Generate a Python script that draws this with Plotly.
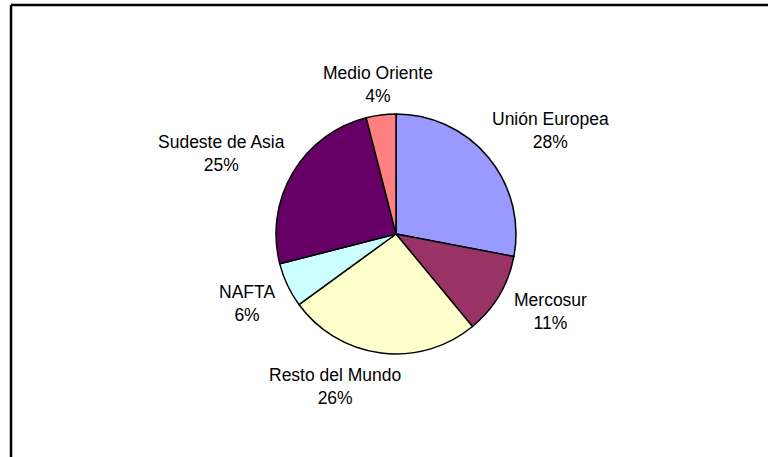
import math
import plotly.graph_objects as go

# Regional share of trade (percent)
regions = ["Unión Europea", "Mercosur", "Resto del Mundo", "NAFTA",
           "Sudeste de Asia", "Medio Oriente"]
shares = [28, 11, 26, 6, 25, 4]
colors = ["#9999FF", "#993366", "#FFFFCC", "#CCFFFF", "#660066", "#FF8080"]

W, H = 768, 457
CX, CY, R = 396, 234, 120          # pie centre and radius in pixels
FONT = dict(family="Liberation Sans, Arial, sans-serif", size=17.5, color="#000000")

fig = go.Figure(go.Pie(
    labels=regions,
    values=shares,
    sort=False,
    direction="clockwise",
    rotation=0,
    marker=dict(colors=colors, line=dict(color="#000000", width=1.5)),
    textinfo="none",
    hoverinfo="skip",
    showlegend=False,
    domain=dict(x=[(CX - R) / W, (CX + R) / W],
                y=[(H - CY - R) / H, (H - CY + R) / H]),
))

# Outside labels: anchored just beyond the rim along each slice's mid-angle,
# with the text box pushed outward by half its size.
gap = 23
nudge = {"Resto del Mundo": (-35, -9), "Medio Oriente": (7, 12),
         "Sudeste de Asia": (6, 2), "Mercosur": (1, -5)}
total = sum(shares)
cum = 0
annotations = []
for name, val in zip(regions, shares):
    mid = (cum + val / 2) / total * 2 * math.pi
    cum += val
    dx, dy = math.sin(mid), -math.cos(mid)
    pct = f"{round(val / total * 100)}%"
    half_w = len(name) * 0.52 * 17 / 2
    half_h = 20
    px = CX + dx * (R + gap + half_w)
    py = CY + dy * (R + gap + half_h)
    nx, ny = nudge.get(name, (0, 0))
    px += nx
    py += ny
    annotations.append(dict(
        x=px / W, y=1 - py / H, xref="paper", yref="paper",
        xanchor="center", yanchor="middle", showarrow=False,
        text=f"{name}<br>{pct}", align="center", font=FONT,
    ))

fig.update_layout(
    width=W, height=H,
    margin=dict(l=0, r=0, t=0, b=0),
    paper_bgcolor="#FFFFFF",
    plot_bgcolor="#FFFFFF",
    annotations=annotations,
    shapes=[
        dict(type="line", xref="paper", yref="paper",
             x0=11 / W, x1=1.05, y0=1 - 5 / H, y1=1 - 5 / H,
             line=dict(color="#000000", width=2.5)),
        dict(type="line", xref="paper", yref="paper",
             x0=11 / W, x1=11 / W, y0=1 - 5 / H, y1=-0.05,
             line=dict(color="#000000", width=2.5)),
    ],
)

fig.write_html("out.html")
